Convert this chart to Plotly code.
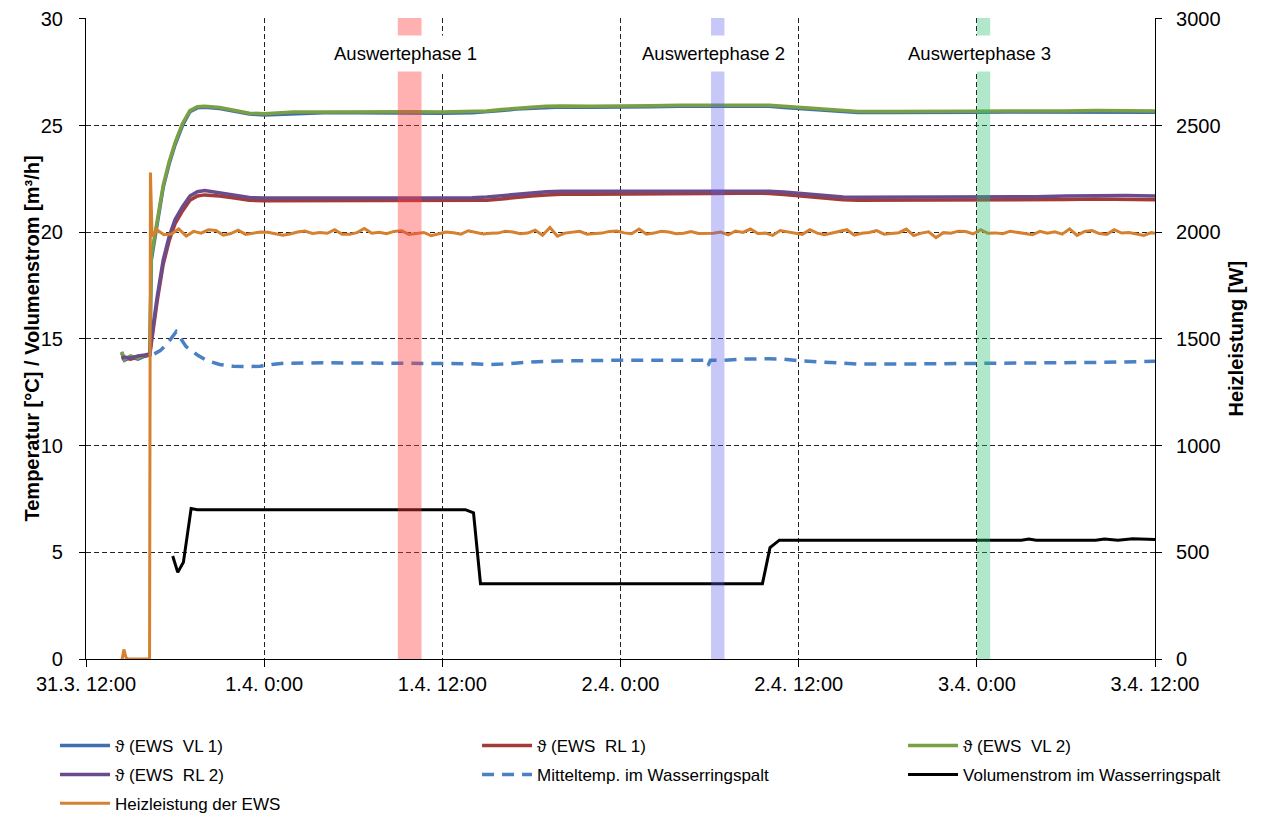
import numpy as np
import pandas as pd
import plotly.graph_objects as go

BASE = pd.Timestamp("2011-03-31 12:00")

def tx(hours):
    return [BASE + pd.Timedelta(hours=float(h)) for h in hours]

# ---------------- temperature series (hours after 31.3. 12:00) ----------------
t_temp = [2.4, 2.6, 3.0, 3.5, 4.0, 4.3, 4.4, 4.8, 5.2, 5.6, 6.0, 6.5, 7.0, 7.5, 8.0, 9.0, 10.0, 11.0,
          12.0, 13, 14, 16, 18, 20, 22, 24, 26, 27, 28, 29, 30, 31, 32, 34, 36, 38, 40, 42, 44, 45,
          46, 47, 48, 49, 50, 51, 52, 54, 56, 58, 60, 62, 64, 66, 68, 70, 72]
vl2 = [14.4, 14.05, 14.2, 14.1, 14.25, 14.3, 18.9, 20.6, 22.2, 23.3, 24.2, 25.1, 25.7, 25.88, 25.9,
       25.85, 25.7, 25.58, 25.55, 25.58, 25.63, 25.64, 25.65, 25.64, 25.65, 25.63, 25.65, 25.68,
       25.75, 25.82, 25.86, 25.9, 25.92, 25.91, 25.94, 25.93, 25.95, 25.95, 25.96, 25.97, 25.95,
       25.9, 25.85, 25.78, 25.72, 25.68, 25.66, 25.66, 25.65, 25.66, 25.67, 25.68, 25.67, 25.68,
       25.7, 25.69, 25.68]
vl1 = [14.35, 14.0, 14.15, 14.05, 14.2, 14.25, 18.7, 20.5, 22.1, 23.2, 24.1, 25.0, 25.65, 25.83,
       25.86, 25.8, 25.66, 25.54, 25.5, 25.53, 25.58, 25.6, 25.6, 25.59, 25.6, 25.58, 25.6, 25.63,
       25.7, 25.77, 25.81, 25.85, 25.87, 25.86, 25.89, 25.88, 25.9, 25.9, 25.91, 25.92, 25.9, 25.85,
       25.8, 25.73, 25.67, 25.63, 25.61, 25.61, 25.6, 25.61, 25.62, 25.63, 25.62, 25.63, 25.64,
       25.63, 25.62]
rl2 = [14.1, 14.15, 14.1, 14.2, 14.25, 14.3, 15.0, 17.0, 18.7, 19.8, 20.6, 21.2, 21.7, 21.9, 21.95,
       21.85, 21.72, 21.63, 21.6, 21.6, 21.6, 21.62, 21.6, 21.62, 21.6, 21.6, 21.62, 21.65, 21.72,
       21.8, 21.86, 21.9, 21.92, 21.92, 21.93, 21.93, 21.94, 21.94, 21.94, 21.94, 21.92, 21.88,
       21.82, 21.75, 21.68, 21.65, 21.64, 21.64, 21.65, 21.65, 21.65, 21.65, 21.66, 21.7, 21.73,
       21.72, 21.7]
rl1 = [14.05, 14.1, 14.05, 14.15, 14.2, 14.25, 14.8, 16.8, 18.5, 19.6, 20.4, 21.0, 21.5, 21.7,
       21.75, 21.7, 21.6, 21.5, 21.47, 21.47, 21.48, 21.48, 21.47, 21.48, 21.48, 21.47, 21.48, 21.5,
       21.56, 21.64, 21.7, 21.75, 21.78, 21.78, 21.8, 21.8, 21.82, 21.82, 21.83, 21.83, 21.82,
       21.77, 21.7, 21.62, 21.55, 21.52, 21.5, 21.5, 21.5, 21.5, 21.5, 21.5, 21.5, 21.53, 21.56,
       21.55, 21.52]

# ---------------- mean temperature in annular gap ----------------
t_mittel = [4.6, 5.0, 5.5, 5.8, 6.07, 6.4, 6.74, 7.5, 8.1, 9.0, 9.9, 10.8, 11.7, 12.5, 13.3, 16, 20,
            24, 26, 27, 28, 30, 32, 36, 40, 41.7, 41.9, 42.05, 43, 44, 46, 47, 48, 50, 52, 56, 60,
            64, 68, 72]
mittel = [14.3, 14.45, 14.8, 15.1, 15.34, 15.0, 14.64, 14.25, 14.0, 13.8, 13.72, 13.7, 13.72, 13.8,
          13.86, 13.88, 13.88, 13.86, 13.84, 13.8, 13.82, 13.92, 13.97, 14.0, 14.0, 14.0, 13.75,
          14.0, 14.0, 14.05, 14.07, 14.05, 13.98, 13.88, 13.82, 13.83, 13.85, 13.87, 13.9, 13.95]

# ---------------- volume flow ----------------
t_vol = [5.84, 6.18, 6.56, 7.08, 7.5, 12, 20, 25.55, 26.1, 26.57, 30, 40, 45.56, 46.07, 46.7, 50,
         57, 59.5, 63, 63.5, 64, 68, 68.6, 69.5, 70.5, 72]
vol = [4.83, 4.06, 4.53, 7.05, 7.0, 7.0, 7.0, 7.0, 6.85, 3.53, 3.53, 3.53, 3.53, 5.22, 5.57, 5.57,
       5.57, 5.57, 5.57, 5.62, 5.57, 5.57, 5.62, 5.57, 5.63, 5.6]

# ---------------- heating power (W, right axis) ----------------
t_heat_start = [2.4, 2.45, 2.55, 2.7, 2.85, 3.2, 4.28, 4.34, 4.45]
heat_start = [0, 5, 45, 5, 0, 0, 0, 2280, 1980]
t_heat_reg = list(np.arange(4.75, 72.0, 0.5)) + [72.0]
heat_reg = [2012, 1988, 1992, 2015, 1982, 2004, 1996, 2012, 2008, 1986, 1994, 2010, 1990, 1995, 2001,
            2000, 1993, 1986, 1992, 2001, 2006, 1994, 1999, 1995, 2012, 1991, 1990, 1998, 2018, 1995,
            2000, 1993, 2004, 2007, 1990, 1996, 1999, 1984, 1992, 2001, 1998, 1991, 2007, 1999, 1992,
            1995, 1996, 2005, 2001, 1993, 1996, 2010, 1986, 2022, 1981, 1996, 1999, 2004, 1991, 1995,
            1996, 2004, 2006, 1997, 1993, 2015, 1991, 1996, 2004, 2001, 1993, 1995, 2003, 1994, 1996,
            1995, 2001, 1988, 2006, 1999, 2015, 1994, 1996, 1985, 2008, 2002, 1996, 1990, 2012, 1996,
            1988, 1996, 2005, 2012, 1986, 1995, 1999, 2008, 1991, 1995, 1998, 2015, 1984, 1996, 2002,
            1975, 1998, 1995, 2005, 2003, 1992, 2012, 1995, 1997, 1993, 2005, 2000, 1994, 1988, 2004,
            1995, 2002, 1991, 2016, 1985, 2004, 2008, 1994, 1990, 2012, 1996, 1999, 1992, 1985, 1998,
            1995]
t_heat = t_heat_start + t_heat_reg
heat = heat_start + heat_reg

# ---------------- evaluation phases ----------------
phase_names = ["Auswertephase 1", "Auswertephase 2", "Auswertephase 3"]
phase_start = [21.0, 42.1, 60.0]
phase_end = [22.6, 43.0, 60.9]
phase_colors = ["rgba(255,60,60,0.40)", "rgba(90,90,235,0.34)", "rgba(40,190,110,0.36)"]

x_tick_hours = [0, 12, 24, 36, 48, 60, 72]
y_left_ticks = [0, 5, 10, 15, 20, 25, 30]
y_right_ticks = [0, 500, 1000, 1500, 2000, 2500, 3000]

FONT = "Liberation Sans, Arial, sans-serif"
C_VL1 = "#3F6FAE"
C_RL1 = "#A33C39"
C_VL2 = "#7AA044"
C_RL2 = "#6A4C8E"
C_MIT = "#4A80C4"
C_VOL = "#000000"
C_HEAT = "#D5812F"

fig = go.Figure()
fig.add_trace(go.Scatter(x=tx(t_temp), y=vl1, mode="lines", name="ϑ (EWS  VL 1)",
                         line=dict(color=C_VL1, width=3.5), legend="legend"))
fig.add_trace(go.Scatter(x=tx(t_temp), y=rl1, mode="lines", name="ϑ (EWS  RL 1)",
                         line=dict(color=C_RL1, width=3.5), legend="legend2"))
fig.add_trace(go.Scatter(x=tx(t_temp), y=vl2, mode="lines", name="ϑ (EWS  VL 2)",
                         line=dict(color=C_VL2, width=3.5), legend="legend3"))
fig.add_trace(go.Scatter(x=tx(t_temp), y=rl2, mode="lines", name="ϑ (EWS  RL 2)",
                         line=dict(color=C_RL2, width=3.5), legend="legend4"))
fig.add_trace(go.Scatter(x=tx(t_mittel), y=mittel, mode="lines", name="Mitteltemp. im Wasserringspalt",
                         line=dict(color=C_MIT, width=3.5, dash="12px,8px"), legend="legend5"))
fig.add_trace(go.Scatter(x=tx(t_vol), y=vol, mode="lines", name="Volumenstrom im Wasserringspalt",
                         line=dict(color=C_VOL, width=3), legend="legend6"))
fig.add_trace(go.Scatter(x=tx(t_heat), y=heat, mode="lines", name="Heizleistung der EWS",
                         line=dict(color=C_HEAT, width=3), yaxis="y2", legend="legend7"))

shapes = []
annotations = []
for name, s, e, c in zip(phase_names, phase_start, phase_end, phase_colors):
    xs, xe = tx([s, e])
    shapes.append(dict(type="rect", xref="x", yref="paper", x0=xs, x1=xe, y0=0, y1=1,
                       fillcolor=c, line=dict(width=0), layer="above"))
    annotations.append(dict(x=tx([(s + e) / 2 - 0.3])[0], xref="x", y=0.944, yref="paper",
                            yanchor="middle", text=name, showarrow=False, bgcolor="white",
                            borderpad=7, font=dict(family=FONT, size=18.5, color="black")))

annotations.append(dict(x=-0.0636, xref="paper", y=0.5, yref="paper", textangle=-90,
                        text="<b>Temperatur [°C] / Volumenstrom [m³/h]</b>", showarrow=False,
                        font=dict(family=FONT, size=20, color="black")))
annotations.append(dict(x=1.087, xref="paper", y=0.5, yref="paper", textangle=-90,
                        text="<b>Heizleistung [W]</b>", showarrow=False,
                        font=dict(family=FONT, size=20, color="black")))

grid_dash = "5px,3px"
leg_common = dict(orientation="v", xanchor="left", yanchor="middle",
                  font=dict(family=FONT, size=17, color="black"),
                  bgcolor="rgba(0,0,0,0)", itemwidth=50)
col_x = [-0.029, 0.3658, 0.7643]
row_y = [-0.134, -0.179, -0.224]

fig.update_layout(
    width=1271, height=822,
    margin=dict(l=78, r=124, t=10, b=170),
    plot_bgcolor="white", paper_bgcolor="white",
    font=dict(family=FONT, size=20, color="black"),
    xaxis=dict(range=tx([0, 72]), tickvals=tx(x_tick_hours), tickformat="%-d.%-m. %-H:%M",
               showgrid=True, gridcolor="#222", griddash=grid_dash, gridwidth=1,
               showline=True, linecolor="black", linewidth=1.2, ticks="outside", ticklen=7,
               tickcolor="black", tickfont=dict(family=FONT, size=20), zeroline=False,
               automargin=False, ticklabeloverflow="allow"),
    yaxis=dict(range=[0, 30.04], tickmode="array", tickvals=y_left_ticks, showgrid=True,
               gridcolor="#222", griddash=grid_dash,
               gridwidth=1, showline=True, linecolor="black", linewidth=1.2, ticks="outside",
               ticklen=6, tickcolor="black", tickfont=dict(family=FONT, size=20), zeroline=False,
               ticklabelstandoff=12, automargin=False, ticklabeloverflow="allow"),
    yaxis2=dict(range=[0, 3004], tickmode="array", tickvals=y_right_ticks, overlaying="y",
                side="right", showgrid=False,
                showline=True, linecolor="black", linewidth=1.2, ticks="outside", ticklen=6,
                tickcolor="black", tickfont=dict(family=FONT, size=20), zeroline=False,
                ticklabelstandoff=10, automargin=False, ticklabeloverflow="allow"),
    shapes=shapes, annotations=annotations,
    legend=dict(x=col_x[0], y=row_y[0], **leg_common),
    legend2=dict(x=col_x[1], y=row_y[0], **leg_common),
    legend3=dict(x=col_x[2], y=row_y[0], **leg_common),
    legend4=dict(x=col_x[0], y=row_y[1], **leg_common),
    legend5=dict(x=col_x[1], y=row_y[1], **leg_common),
    legend6=dict(x=col_x[2], y=row_y[1], **leg_common),
    legend7=dict(x=col_x[0], y=row_y[2], **leg_common),
    showlegend=True,
)

fig.write_html("out.html")
